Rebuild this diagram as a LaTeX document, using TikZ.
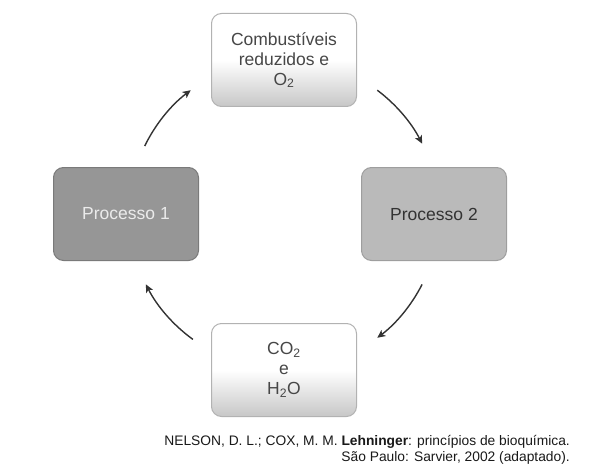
\documentclass[tikz,border=0pt]{standalone}
\usepackage{fontspec}
\setmainfont{Liberation Sans}
\usetikzlibrary{arrows.meta,positioning}
\tikzstyle{boxstyle}=[rounded corners=10pt,minimum width=145pt,minimum height=93pt,align=center,line width=1pt,font=\fontsize{17.5}{20}\selectfont]
\tikzstyle{lightbox}=[boxstyle,draw=black!30,top color=white,bottom color=black!22,middle color=white,text=black!72]
\tikzstyle{darkbox}=[boxstyle,draw=black!52,fill=black!41,text=white!92!black]
\tikzstyle{midbox}=[boxstyle,draw=black!38,fill=black!27,text=black!80]

\begin{document}
\begin{tikzpicture}[x=1pt,y=1pt,on grid]
	\tikzstyle{cyc}=[-{Stealth[length=8pt,width=7.5pt,inset=2pt]},line width=1.4pt,draw=black!80]
	\useasboundingbox (0,0) rectangle (604,-468);

	\node[lightbox]	(comb) at (284,-60)	{Combustíveis\\reduzidos e\\O\textsubscript{2}};
	\node[darkbox]	(proc1) [below left=154pt and 158pt of comb]	{Processo 1};
	\node[midbox]	(proc2) [below right=154pt and 150pt of comb]	{Processo 2};
	\node[lightbox]	(co2) [below=310pt of comb]	{CO\textsubscript{2}\\e\\H\textsubscript{2}O};

	\coordinate (ctr) at (proc1 -| comb);
	\coordinate (a1) at ([shift={(154:155pt)}]ctr);
	\coordinate (a2) at ([shift={(53:155pt)}]ctr);
	\coordinate (a3) at ([shift={(-27:155pt)}]ctr);
	\coordinate (a4) at ([shift={(-126:155pt)}]ctr);

	\draw[cyc] (a1) arc[start angle=154,end angle=127,radius=155pt];
	\draw[cyc] (a2) arc[start angle=53,end angle=27,radius=155pt];
	\draw[cyc] (a3) arc[start angle=-27,end angle=-53,radius=155pt];
	\draw[cyc] (a4) arc[start angle=-126,end angle=-153,radius=155pt];

	\node[font=\fontsize{13.8}{16}\selectfont,align=right,anchor=east,inner sep=0pt,text=black!90] (ref) at (570,-450)
		{NELSON, D. L.; COX, M. M. \textbf{Lehninger}: princípios de bioquímica.\\São Paulo: Sarvier, 2002 (adaptado).};
\end{tikzpicture}
\end{document}
